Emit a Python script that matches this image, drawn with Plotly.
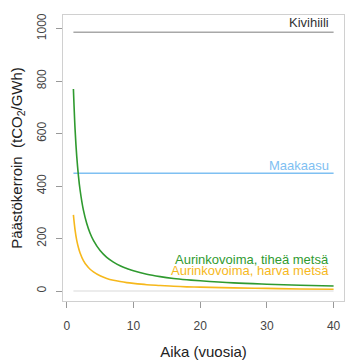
import plotly.graph_objects as go

# Data
t = [1, 1.25, 1.5, 1.75, 2, 2.5, 3, 3.5, 4, 5, 6, 7, 8, 9, 10, 12, 14, 16, 18, 20, 25, 30, 35, 40]
tihea = [770, 616, 513, 440, 385, 308, 257, 220, 193, 154, 128, 110, 96, 86, 77, 64, 55, 48, 43, 39, 31, 26, 22, 19]
harva = [290, 232, 193, 166, 145, 116, 97, 83, 73, 58, 48, 41, 36, 32, 29, 24, 21, 18, 16, 15, 12, 10, 8, 7]
ref_x = [1, 40]
kivihiili = [986, 986]
maakaasu = [449, 449]
nolla = [0, 0]

x_ticks = [0, 10, 20, 30, 40]
y_ticks = [0, 200, 400, 600, 800, 1000]

labels = ["Kivihiili", "Maakaasu", "Aurinkovoima, tiheä metsä", "Aurinkovoima, harva metsä"]
label_y = [1024, 479, 122, 77]

GREEN = "#2f9a2f"
ORANGE = "#f6b81c"
BLUE = "#7fc0f2"
GRAY = "#a8a8a8"

fig = go.Figure()
fig.add_trace(go.Scatter(x=ref_x, y=nolla, mode="lines", line=dict(color="#e6e6e6", width=1.5)))
fig.add_trace(go.Scatter(x=ref_x, y=kivihiili, mode="lines", line=dict(color=GRAY, width=1.5)))
fig.add_trace(go.Scatter(x=ref_x, y=maakaasu, mode="lines", line=dict(color=BLUE, width=1.5)))
fig.add_trace(go.Scatter(x=t, y=harva, mode="lines", line=dict(color=ORANGE, width=1.6, shape="spline")))
fig.add_trace(go.Scatter(x=t, y=tihea, mode="lines", line=dict(color=GREEN, width=1.6, shape="spline")))

colors = ["#333333", BLUE, GREEN, ORANGE]
for txt, yy, c in zip(labels, label_y, colors):
    fig.add_annotation(x=39.6, y=yy, text=txt, showarrow=False, xanchor="right", yanchor="middle",
                       font=dict(size=13, color=c, family="Liberation Sans, Arial, sans-serif"))

axis_common = dict(showgrid=False, zeroline=False, showline=True, mirror=True, linecolor="#d0d0d0",
                   linewidth=1, ticks="outside", ticklen=6, tickcolor="#999999", automargin=False,
                   tickfont=dict(size=12, color="#444444"))

# page body has an 8px margin, so the figure is sized/offset to compensate
fig.update_layout(
    width=352, height=352,
    margin=dict(l=55, r=16, t=7, b=59),
    plot_bgcolor="white", paper_bgcolor="white",
    showlegend=False,
    font=dict(family="Liberation Sans, Arial, sans-serif", color="#222222"),
    xaxis=dict(range=[-0.56, 41.56], tickvals=x_ticks, ticklabelstandoff=8,
               title=dict(text="Aika (vuosia)", font=dict(size=15, color="#222222"), standoff=21),
               **axis_common),
    yaxis=dict(range=[-38, 1052], tickvals=y_ticks, tickangle=-90, ticklabelstandoff=5,
               title=dict(text="Päästökerroin  (tCO<sub>2</sub>/GWh)", font=dict(size=15, color="#222222"), standoff=26),
               **axis_common),
)

fig.write_html("out.html")
